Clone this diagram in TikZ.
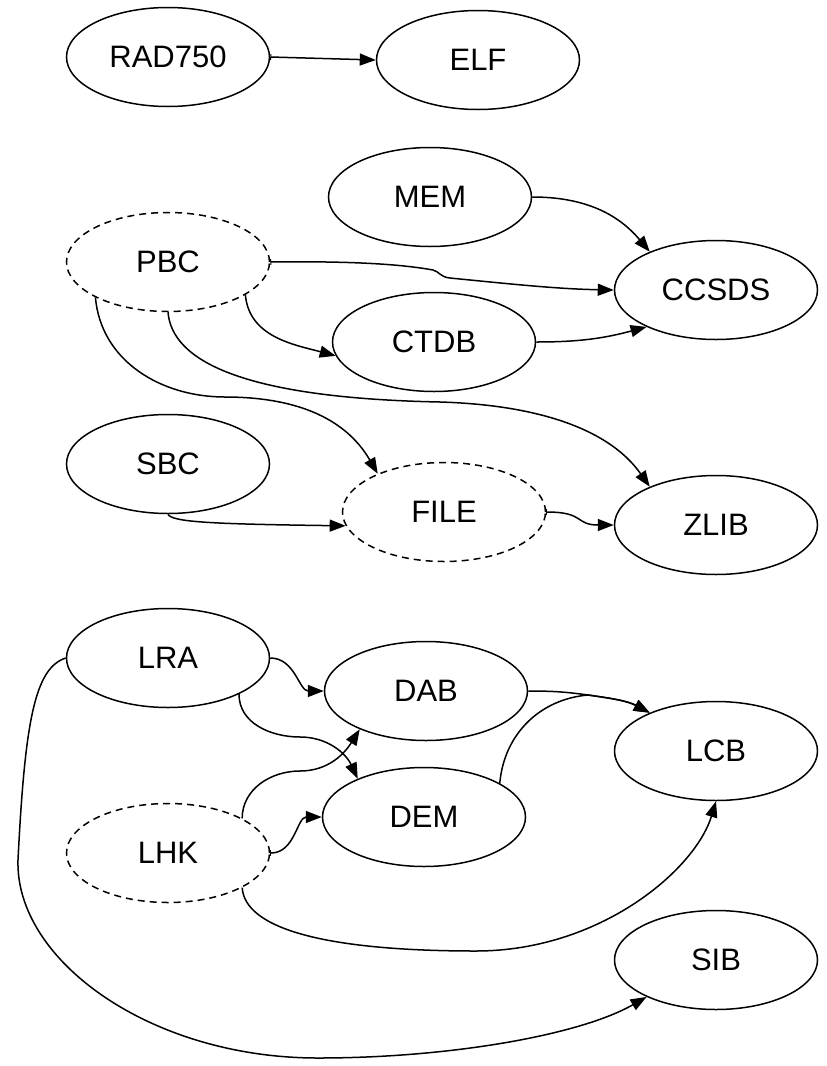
\documentclass[tikz,border=0pt]{standalone}
\usepackage{fontspec}
\setmainfont{Liberation Sans}
\usetikzlibrary{arrows.meta,shapes.geometric}
\begin{document}
\begin{tikzpicture}[x=1pt,y=1pt,
  nd/.style={ellipse,draw,line width=1.5pt,minimum width=203pt,minimum height=99pt,inner sep=0pt,font=\fontsize{31}{37}\selectfont},
  dnd/.style={nd,dash pattern=on 7pt off 5pt},
  edge/.style={line width=1.5pt,-{Triangle[length=16pt,width=12pt]}},
  tedge/.style={line width=1.5pt,{Bar[width=6pt,line width=1pt]}-{Triangle[length=16pt,width=12pt]}}
]
\fill[white] (0,0) rectangle (827,-1066);
\useasboundingbox (0,0) rectangle (827,-1066);

\node[nd]  (RAD)   at (168,-57)  {RAD750};
\node[nd]  (ELF)   at (478,-60)  {ELF};
\node[nd]  (MEM)   at (430,-197) {MEM};
\node[dnd] (PBC)   at (168,-262) {PBC};
\node[nd]  (CCSDS) at (716,-290) {CCSDS};
\node[nd]  (CTDB)  at (434,-342) {CTDB};
\node[nd]  (SBC)   at (168,-464) {SBC};
\node[dnd] (FILE)  at (444,-512) {FILE};
\node[nd]  (ZLIB)  at (716,-525) {ZLIB};
\node[nd]  (LRA)   at (168,-658) {LRA};
\node[nd]  (DAB)   at (426,-691) {DAB};
\node[nd]  (LCB)   at (716,-751) {LCB};
\node[nd]  (DEM)   at (424,-817) {DEM};
\node[dnd] (LHK)   at (168,-853) {LHK};
\node[nd]  (SIB)   at (716,-960) {SIB};

\coordinate (J) at (588,-695);

\draw[tedge] (RAD.east) -- (ELF.west);
\draw[edge] (MEM.east) to[out=0,in=130] (CCSDS.150);
\draw[tedge] (PBC.east) .. controls (350,-261) and (400,-264) .. (433,-270) .. controls (440,-272) and (440,-277) .. (450,-278) .. controls (520,-285) and (560,-289) .. (CCSDS.west);
\draw[edge] (PBC.-23) to[out=-85,in=165] (CTDB.188);
\draw[edge] (CTDB.east) to[out=0,in=195] (CCSDS.208);
\draw[edge] (PBC.206) to[out=-85,in=180] (225,-397) to[out=0,in=120] (FILE.150);
\draw[edge] (PBC.south) .. controls (172,-360) and (240,-398) .. (440,-402) .. controls (540,-405) and (610,-430) .. (ZLIB.150);
\draw[edge] (SBC.south) .. controls (172,-522) and (210,-524) .. (FILE.188);
\draw[tedge] (FILE.east) .. controls (585,-512) and (575,-525) .. (ZLIB.west);
\draw[edge] (LRA.east) to[out=0,in=180] (DAB.west);
\draw[edge] (LRA.-27) to[out=-90,in=180] (300,-737) to[out=0,in=115] (DEM.150);
\draw[edge] (LHK.25) to[out=90,in=180] (300,-771) to[out=0,in=238] (DAB.210);
\draw[tedge] (LHK.east) to[out=0,in=180] (DEM.west);
\draw[edge] (DAB.east) to[out=0,in=172] (J) to[out=-8,in=152] (LCB.150);
\draw[edge] (DEM.24) to[out=85,in=185] (J) to[out=-8,in=152] (LCB.150);
\draw[edge] (LHK.-25) .. controls (245,-930) and (330,-951) .. (476,-951) .. controls (600,-951) and (695,-870) .. (LCB.south);
\draw[edge] (LRA.west) .. controls (35,-668) and (25,-720) .. (18,-860) .. controls (15,-960) and (150,-1058) .. (318,-1058) .. controls (450,-1058) and (580,-1035) .. (SIB.208);
\end{tikzpicture}
\end{document}
